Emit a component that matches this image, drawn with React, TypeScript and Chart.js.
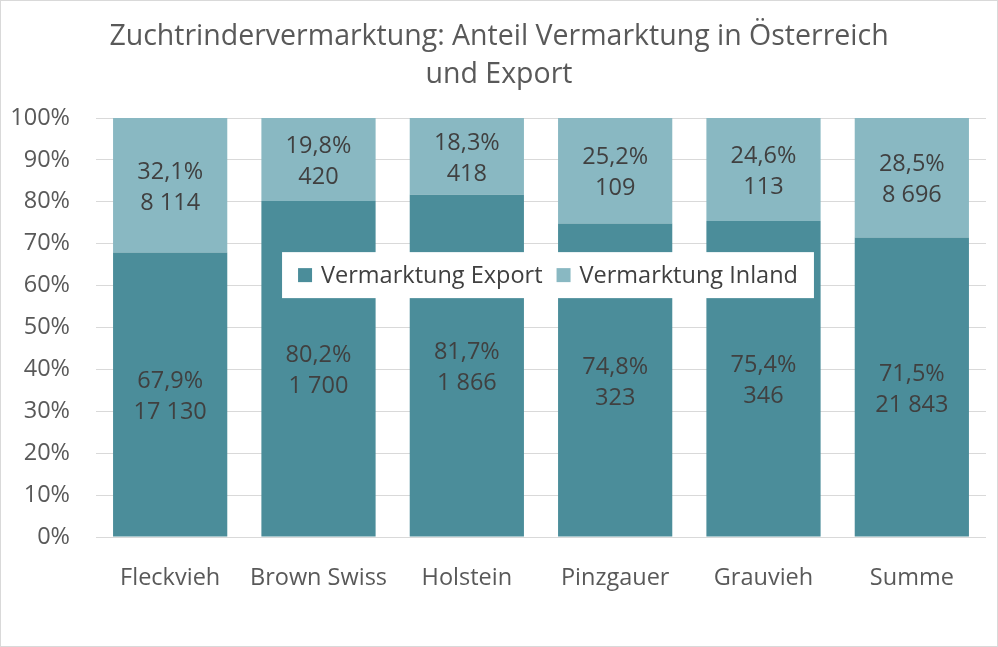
import { useEffect, useRef } from 'react';
import { Chart, registerables } from 'chart.js';

Chart.register(...registerables);

const categories = ['Fleckvieh', 'Brown Swiss', 'Holstein', 'Pinzgauer', 'Grauvieh', 'Summe'];
const exportShare = [67.9, 80.2, 81.7, 74.8, 75.4, 71.5];
const inlandShare = [32.1, 19.8, 18.3, 25.2, 24.6, 28.5];
const exportCount = [17130, 1700, 1866, 323, 346, 21843];
const inlandCount = [8114, 420, 418, 109, 113, 8696];
const titleLines = ['Zuchtrindervermarktung: Anteil Vermarktung in Österreich', 'und Export'];

const FONT = '"Open Sans", Lato, sans-serif';
const EXPORT_COLOR = '#4b8d9a';
const INLAND_COLOR = '#89b8c2';

const fmtCount = (n: number) => String(n).replace(/\B(?=(\d{3})+(?!\d))/g, ' ');
const fmtPct = (v: number) => v.toFixed(1).replace('.', ',') + '%';

// labels in the middle of every segment, two lines: share and count
const segmentLabels = {
  id: 'segmentLabels',
  afterDatasetsDraw(chart: any) {
    const ctx = chart.ctx;
    const counts = [exportCount, inlandCount];
    ctx.save();
    ctx.font = `23.5px ${FONT}`;
    ctx.fillStyle = '#404040';
    ctx.textAlign = 'center';
    ctx.textBaseline = 'middle';
    chart.data.datasets.forEach((ds: any, di: number) => {
      const meta = chart.getDatasetMeta(di);
      meta.data.forEach((bar: any, i: number) => {
        const cy = (bar.y + bar.base) / 2;
        ctx.fillText(fmtPct(ds.data[i]), bar.x, cy - 13);
        ctx.fillText(fmtCount(counts[di][i]), bar.x, cy + 18);
      });
    });
    ctx.restore();
  },
};

// legend box floating inside the plot area
const floatingLegend = {
  id: 'floatingLegend',
  afterDraw(chart: any) {
    const ctx = chart.ctx;
    const y = chart.scales.y;
    ctx.save();
    ctx.font = `23.5px ${FONT}`;
    const box = 14, gap = 9, itemGap = 14, pad = 16;
    const items = chart.data.datasets.map((ds: any) => ({
      label: ds.label,
      color: ds.backgroundColor,
      w: ctx.measureText(ds.label).width,
    }));
    const total = items.reduce((s: number, it: any) => s + box + gap + it.w, 0) + itemGap * (items.length - 1) + pad * 2;
    const cx = 548;
    const cy = y.getPixelForValue(62.5);
    const h = 46;
    let x = cx - total / 2;
    ctx.fillStyle = '#ffffff';
    ctx.fillRect(x, cy - h / 2, total, h);
    x += pad;
    ctx.textBaseline = 'middle';
    ctx.textAlign = 'left';
    items.forEach((it: any) => {
      ctx.fillStyle = it.color;
      ctx.fillRect(x, cy - box / 2, box, box);
      x += box + gap;
      ctx.fillStyle = '#404040';
      ctx.fillText(it.label, x, cy + 1);
      x += it.w + itemGap;
    });
    ctx.restore();
  },
};

// white background, thin frame and the two-line title centred on the whole canvas
const frameAndTitle = {
  id: 'frameAndTitle',
  beforeDraw(chart: any) {
    const ctx = chart.ctx;
    ctx.save();
    ctx.fillStyle = '#ffffff';
    ctx.fillRect(0, 0, chart.width, chart.height);
    ctx.strokeStyle = '#d9d9d9';
    ctx.lineWidth = 1;
    ctx.strokeRect(0.5, 0.5, chart.width - 1, chart.height - 1);
    ctx.font = `28.5px ${FONT}`;
    ctx.fillStyle = '#595959';
    ctx.textAlign = 'center';
    ctx.textBaseline = 'middle';
    titleLines.forEach((line, i) => {
      ctx.fillText(line, chart.width / 2, 36.5 + i * 38.5);
    });
    ctx.restore();
  },
};

const App = () => {
  const chartRef = useRef<HTMLCanvasElement>(null);
  const chartInstance = useRef<Chart | null>(null);

  useEffect(() => {
    document.body.style.margin = '0';
    if (chartRef.current) {
      const ctx = chartRef.current.getContext('2d');
      if (ctx) {
        if (chartInstance.current) {
          chartInstance.current.destroy();
        }
        chartInstance.current = new Chart(ctx, {
          type: 'bar',
          data: {
            labels: categories,
            datasets: [
              {
                label: 'Vermarktung Export',
                data: exportShare,
                backgroundColor: EXPORT_COLOR,
                barPercentage: 0.77,
                categoryPercentage: 1,
              },
              {
                label: 'Vermarktung Inland',
                data: inlandShare,
                backgroundColor: INLAND_COLOR,
                barPercentage: 0.77,
                categoryPercentage: 1,
              },
            ],
          },
          options: {
            animation: false,
            responsive: false,
            devicePixelRatio: 1,
            layout: { padding: { left: 0, right: 12, top: 118, bottom: 0 } },
            scales: {
              x: {
                stacked: true,
                grid: { display: false },
                border: { display: false },
                ticks: { color: '#595959', font: { family: FONT, size: 23.5 }, padding: 19 },
                afterFit: (scale: any) => { scale.height = 110; },
              },
              y: {
                stacked: true,
                min: 0,
                max: 100,
                ticks: {
                  stepSize: 10,
                  color: '#595959',
                  font: { family: FONT, size: 23.5 },
                  padding: 26,
                  callback: (v: any) => v + '%',
                },
                grid: { color: '#d9d9d9', drawTicks: false },
                border: { display: false },
                afterFit: (scale: any) => { scale.width = 96; },
              },
            },
            plugins: {
              legend: { display: false },
              tooltip: { enabled: false },
              title: { display: false },
            },
          },
          plugins: [frameAndTitle, segmentLabels, floatingLegend],
        });
      }
    }
    return () => {
      if (chartInstance.current) {
        chartInstance.current.destroy();
        chartInstance.current = null;
      }
    };
  }, []);

  return (
    <div style={{ width: '998px', height: '647px' }}>
      <canvas ref={chartRef} width={998} height={647}></canvas>
    </div>
  );
};

export default App;
